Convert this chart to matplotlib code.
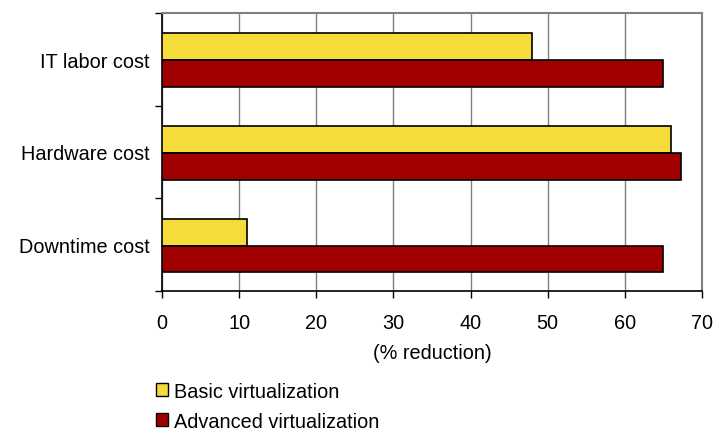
import numpy as np
import matplotlib.pyplot as plt
from matplotlib.patches import Patch

plt.rcParams['font.family'] = ['Liberation Sans', 'DejaVu Sans']

categorias = ['IT labor cost', 'Hardware cost', 'Downtime cost']
basica = [48, 66, 11]
avanzada = [65, 67.3, 65]
xticks = [0, 10, 20, 30, 40, 50, 60, 70]

amarillo = '#F6DC38'
rojo = '#A00000'

fig = plt.figure(figsize=(7.18, 4.39), dpi=100)
ax = fig.add_axes([0.2256, 0.335, 0.752, 0.633])

y = np.arange(len(categorias))
h = 0.29
ax.barh(y - h / 2 + 0.01, basica, height=h, color=amarillo, edgecolor='black', linewidth=1.2, zorder=3)
ax.barh(y + h / 2 + 0.01, avanzada, height=h, color=rojo, edgecolor='black', linewidth=1.2, zorder=3)

ax.set_xlim(0, 70)
ax.set_ylim(2.5, -0.5)
ax.set_xticks(xticks)
ax.set_yticks(y)
ax.set_yticklabels(categorias, fontsize=14.3)
ax.set_yticks([-0.5, 0.5, 1.5, 2.5], minor=True)
ax.tick_params(axis='y', which='major', length=0, pad=9)
ax.tick_params(axis='y', which='minor', length=5, width=1, color='black')
ax.tick_params(axis='x', labelsize=14.3, length=5, width=1, pad=11)
ax.grid(axis='x', color='#808080', linewidth=1, zorder=0)

for lado in ['top', 'right']:
    ax.spines[lado].set_color('#808080')
    ax.spines[lado].set_linewidth(1.5)
for lado in ['left', 'bottom']:
    ax.spines[lado].set_color('black')
    ax.spines[lado].set_linewidth(1.2)

ax.set_xlabel('(% reduction)', fontsize=14.3, labelpad=8)

handles = [Patch(facecolor=amarillo, edgecolor='black', label='Basic virtualization'),
           Patch(facecolor=rojo, edgecolor='black', label='Advanced virtualization')]
fig.legend(handles=handles, loc='upper left', bbox_to_anchor=(0.203, 0.151),
           frameon=False, fontsize=14.3, handlelength=0.6, handleheight=0.6,
           handletextpad=0.3, labelspacing=0.55, borderpad=0)

fig.savefig('out.png', dpi=100)
